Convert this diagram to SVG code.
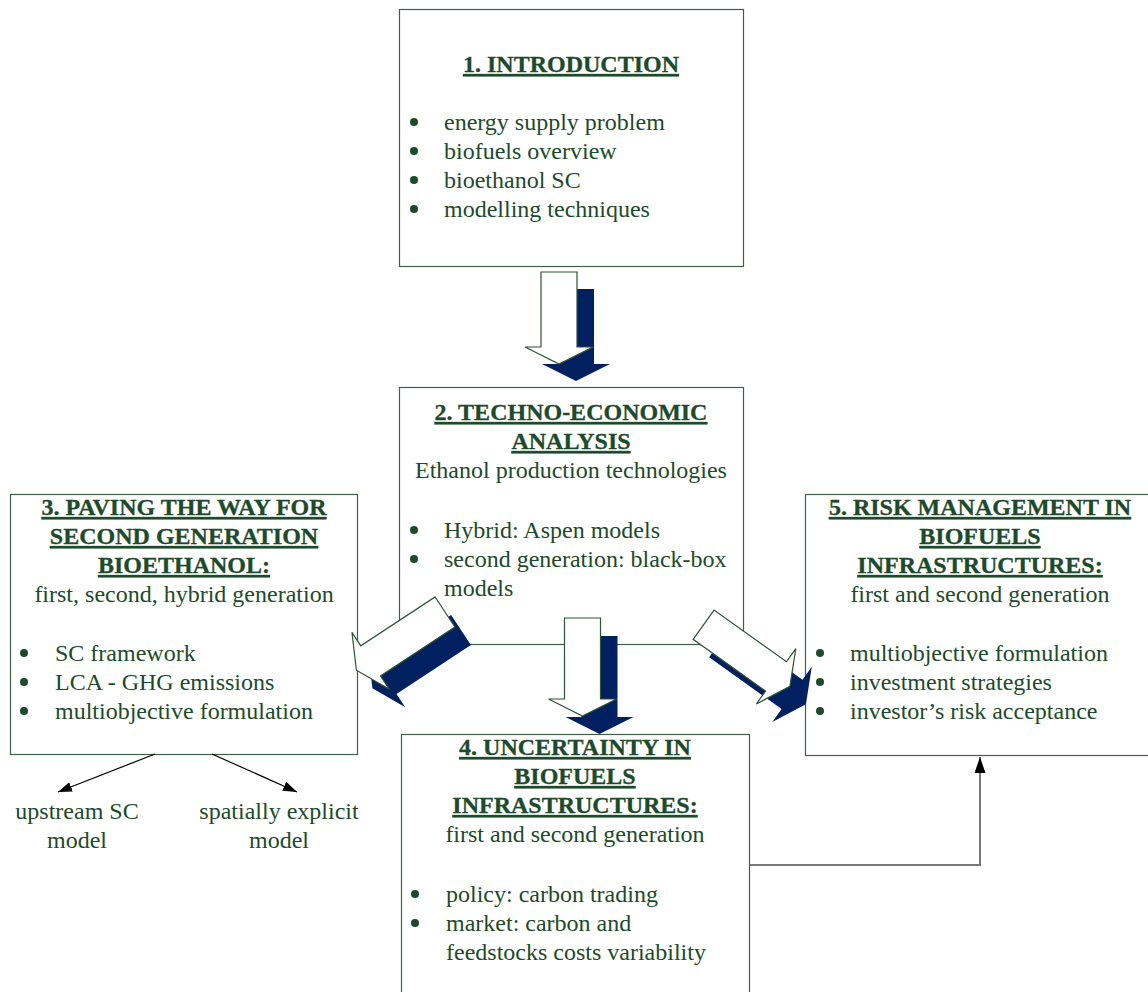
<svg xmlns="http://www.w3.org/2000/svg" width="1148" height="992" viewBox="0 0 1148 992">
  <defs>
    <style>
      .box { fill: #ffffff; stroke: #3f6048; stroke-width: 1.2; }
      .t { font-family: "Liberation Serif", "Times New Roman", serif; font-size: 24px; fill: #1d4a2b; }
      .h { font-weight: bold; text-decoration: underline; text-anchor: middle; stroke: #1d4a2b; stroke-width: 0.3; }
      .c { text-anchor: middle; }
      .dot { fill: #1d4a2b; }
      .front { fill: #ffffff; stroke: #2c5436; stroke-width: 1.2; stroke-linejoin: miter; }
      .shadow { fill: #002060; stroke: none; }
      .link { fill: none; stroke: #000000; stroke-width: 1.2; }
      .loop { fill: none; stroke: #7a7a7a; stroke-width: 2; }
    </style>
    <marker id="tip" markerUnits="userSpaceOnUse" markerWidth="16" markerHeight="12" refX="14" refY="5" orient="auto">
      <path d="M0,0 L14,5 L0,10 Z" fill="#000000"/>
    </marker>
    <marker id="tipUp" markerUnits="userSpaceOnUse" markerWidth="18" markerHeight="12" refX="16" refY="5.5" orient="auto">
      <path d="M0,0 L16,5.5 L0,11 Z" fill="#000000"/>
    </marker>
  </defs>

  <!-- 1. Introduction -->
  <g id="node-introduction">
    <rect class="box" x="399.5" y="9.5" width="344" height="257"/>
    <text class="t h" x="571" y="72">1. INTRODUCTION</text>
    <circle class="dot" cx="414" cy="122" r="4"/>
    <circle class="dot" cx="414" cy="151" r="4"/>
    <circle class="dot" cx="414" cy="180" r="4"/>
    <circle class="dot" cx="414" cy="209" r="4"/>
    <text class="t" x="444" y="130">energy supply problem</text>
    <text class="t" x="444" y="159">biofuels overview</text>
    <text class="t" x="444" y="188">bioethanol SC</text>
    <text class="t" x="444" y="217">modelling techniques</text>
  </g>

  <!-- 2. Techno-economic analysis -->
  <g id="node-techno-economic">
    <rect class="box" x="399.5" y="387.5" width="344" height="257"/>
    <text class="t h" x="571" y="420">2. TECHNO-ECONOMIC</text>
    <text class="t h" x="571" y="449">ANALYSIS</text>
    <text class="t c" x="571" y="478">Ethanol production technologies</text>
    <circle class="dot" cx="414" cy="530" r="4"/>
    <circle class="dot" cx="414" cy="559" r="4"/>
    <text class="t" x="444" y="538">Hybrid: Aspen models</text>
    <text class="t" x="444" y="567">second generation: black-box</text>
    <text class="t" x="444" y="596">models</text>
  </g>

  <!-- 3. Paving the way for second generation bioethanol -->
  <g id="node-second-generation">
    <rect class="box" x="10.5" y="494.5" width="347" height="260"/>
    <text class="t h" x="184" y="515">3. PAVING THE WAY FOR</text>
    <text class="t h" x="184" y="544">SECOND GENERATION</text>
    <text class="t h" x="184" y="573">BIOETHANOL:</text>
    <text class="t c" x="184" y="602">first, second, hybrid generation</text>
    <circle class="dot" cx="24" cy="653" r="4"/>
    <circle class="dot" cx="24" cy="682" r="4"/>
    <circle class="dot" cx="24" cy="711" r="4"/>
    <text class="t" x="55" y="661">SC framework</text>
    <text class="t" x="55" y="690">LCA - GHG emissions</text>
    <text class="t" x="55" y="719">multiobjective formulation</text>
  </g>

  <!-- 4. Uncertainty in biofuels infrastructures -->
  <g id="node-uncertainty">
    <rect class="box" x="401.5" y="734.5" width="348" height="270"/>
    <text class="t h" x="575" y="755">4. UNCERTAINTY IN</text>
    <text class="t h" x="575" y="784">BIOFUELS</text>
    <text class="t h" x="575" y="813">INFRASTRUCTURES:</text>
    <text class="t c" x="575" y="842">first and second generation</text>
    <circle class="dot" cx="415" cy="894" r="4"/>
    <circle class="dot" cx="415" cy="923" r="4"/>
    <text class="t" x="446" y="902">policy: carbon trading</text>
    <text class="t" x="446" y="931">market: carbon and</text>
    <text class="t" x="446" y="960">feedstocks costs variability</text>
  </g>

  <!-- 5. Risk management in biofuels infrastructures -->
  <g id="node-risk-management">
    <rect class="box" x="805.5" y="494.5" width="350" height="261"/>
    <text class="t h" x="980" y="515">5. RISK MANAGEMENT IN</text>
    <text class="t h" x="980" y="544">BIOFUELS</text>
    <text class="t h" x="980" y="573">INFRASTRUCTURES:</text>
    <text class="t c" x="980" y="602">first and second generation</text>
    <circle class="dot" cx="820" cy="653" r="4"/>
    <circle class="dot" cx="820" cy="682" r="4"/>
    <circle class="dot" cx="820" cy="711" r="4"/>
    <text class="t" x="850" y="661">multiobjective formulation</text>
    <text class="t" x="850" y="690">investment strategies</text>
    <text class="t" x="850" y="719">investor’s risk acceptance</text>
  </g>

  <!-- model labels under section 3 -->
  <g id="node-upstream">
    <text class="t c" x="77" y="819">upstream SC</text>
    <text class="t c" x="77" y="848">model</text>
  </g>
  <g id="node-spatial">
    <text class="t c" x="279" y="819">spatially explicit</text>
    <text class="t c" x="279" y="848">model</text>
  </g>

  <!-- connectors -->
  <g id="connectors">
    <!-- 3D block arrows: navy shadow below, outlined white arrow on top -->
    <g id="arrow-1-2">
      <path class="shadow" transform="translate(576,289)" d="M-18,0 L18,0 L18,75 L34,75 L0,92 L-34,75 L-18,75 Z"/>
      <path class="front" transform="translate(559,272)" d="M-18,0 L18,0 L18,75 L34,75 L0,92 L-34,75 L-18,75 Z"/>
    </g>
    <g id="arrow-2-4">
      <path class="shadow" transform="translate(599.5,636)" d="M-18,0 L18,0 L18,81 L34,81 L0,98 L-34,81 L-18,81 Z"/>
      <path class="front" transform="translate(582.5,618)" d="M-18,0 L18,0 L18,81 L34,81 L0,98 L-34,81 L-18,81 Z"/>
    </g>
    <g id="arrow-2-3">
      <path class="shadow" transform="translate(461,630) rotate(56.7)" d="M-18,0 L18,0 L18,89 L34,89 L0,106 L-34,89 L-18,89 Z"/>
      <path class="front" transform="translate(445,612) rotate(56.7)" d="M-18,0 L18,0 L18,89 L34,89 L0,106 L-34,89 L-18,89 Z"/>
    </g>
    <g id="arrow-2-5">
      <path class="shadow" transform="translate(719.6,642.7) rotate(-54.5)" d="M-18,0 L18,0 L18,89 L34,89 L0,106 L-34,89 L-18,89 Z"/>
      <path class="front" transform="translate(703.6,624.7) rotate(-54.5)" d="M-18,0 L18,0 L18,89 L34,89 L0,106 L-34,89 L-18,89 Z"/>
    </g>

    <!-- section 3 to its two model variants -->
    <line class="link" x1="155" y1="754" x2="58" y2="792" marker-end="url(#tip)"/>
    <line class="link" x1="212" y1="754" x2="297" y2="792" marker-end="url(#tip)"/>

    <!-- section 4 feeding into section 5 -->
    <path class="loop" d="M750,865 L980,865 L980,757" marker-end="url(#tipUp)"/>
  </g>
</svg>
